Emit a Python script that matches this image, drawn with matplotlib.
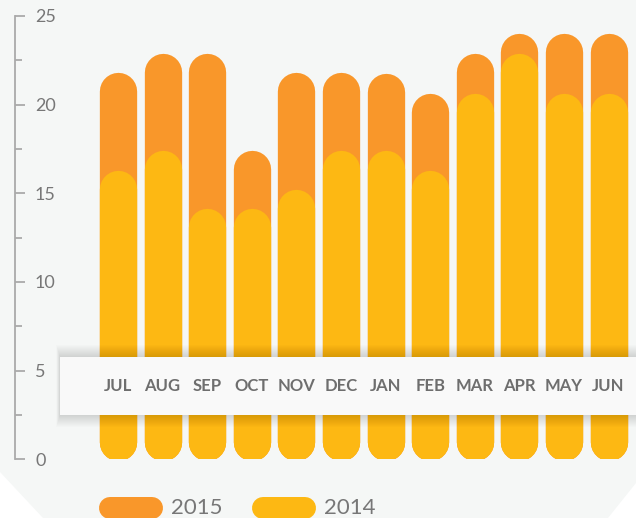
import numpy as np
import matplotlib.pyplot as plt
from matplotlib.patches import Polygon, Rectangle
from matplotlib.lines import Line2D
from matplotlib.ticker import MultipleLocator

months = ["JUL", "AUG", "SEP", "OCT", "NOV", "DEC", "JAN", "FEB", "MAR", "APR", "MAY", "JUN"]
vals_2015 = [21.8, 22.9, 22.9, 17.45, 21.8, 21.8, 21.75, 20.65, 22.9, 24.0, 24.0, 24.0]
vals_2014 = [16.3, 17.45, 14.15, 14.15, 15.2, 17.45, 17.45, 16.3, 20.65, 22.9, 20.65, 20.65]
series = ["2015", "2014"]
colors = ["#f9972a", "#fdb813"]

W, H = 636, 518
fig = plt.figure(figsize=(W / 100, H / 100), dpi=100)
fig.patch.set_facecolor("white")

# light grey card with the bottom corners cut off
bg = Polygon([(0, 1), (1, 1), (1, (H - 483) / H), (608 / W, 0), (43 / W, 0), (0, (H - 472) / H)],
             closed=True, transform=fig.transFigure, facecolor="#f5f7f6", edgecolor="none", zorder=-5)
fig.patches.append(bg)

y0_px, y25_px = 459.3, 16.0
ax = fig.add_axes([0, (H - y0_px) / H, 1, (y0_px - y25_px) / H], zorder=2)
ax.patch.set_alpha(0)
step = 44.6
x0 = 118
ax.set_xlim(-x0 / step, (W - x0) / step)
ax.set_ylim(0, 25)

px_per_unit = (y0_px - y25_px) / 25
bar_px = 37.3
r = bar_px / 2 / px_per_unit
lw = bar_px * 72 / 100

x = np.arange(len(months))
for vals, c, z in [(vals_2015, colors[0], 2), (vals_2014, colors[1], 2.5)]:
    for xi, v in zip(x, vals):
        ax.plot([xi, xi], [r - 0.1, v - r], color=c, lw=lw, solid_capstyle="round", zorder=z)

# label band with soft shadow
band_lo, band_hi = (y0_px - 415) / px_per_unit, (y0_px - 357) / px_per_unit
bx0 = (60 - x0) / step
bx1 = (W - x0) / step + 1
for k in range(1, 13):
    d = k * 1.0 / px_per_unit
    ax.add_patch(Rectangle((bx0 - 0.3 * k / step, band_lo - d), bx1 - bx0, band_hi - band_lo + 2 * d,
                           facecolor="black", edgecolor="none", alpha=0.011, zorder=3))
ax.add_patch(Rectangle((bx0, band_lo), bx1 - bx0, band_hi - band_lo,
                       facecolor="#f9f9f9", edgecolor="none", zorder=3.5))
label_y = (y0_px - 386) / px_per_unit
for xi, m in zip(x, months):
    ax.text(xi, label_y, m, ha="center", va="center", fontsize=12, fontweight="bold",
            family="Lato", color="#6e6e6e", zorder=5)

# y axis on the left, labels to the right of the spine
for s in ["top", "right", "bottom"]:
    ax.spines[s].set_visible(False)
ax.spines["left"].set_position(("axes", 15 / W))
ax.spines["left"].set_bounds(0, 25)
ax.spines["left"].set_color("#aaaaaa")
ax.spines["left"].set_linewidth(1.3)
ax.set_xticks([])
ax.yaxis.set_major_locator(MultipleLocator(5))
ax.yaxis.set_minor_locator(MultipleLocator(2.5))
ax.tick_params(axis="y", which="major", direction="in", length=7.2, width=1.3, color="#aaaaaa",
               pad=-14.4, labelsize=13, labelcolor="#777777")
ax.tick_params(axis="y", which="minor", direction="in", length=5, width=1.3, color="#aaaaaa")
for t in ax.get_yticklabels():
    t.set_ha("left")
    t.set_family("Lato")

# legend
leg_y = (H - 508) / H
for i, (name, c) in enumerate(zip(series, colors)):
    left = 99 + i * 153
    fig.add_artist(Line2D([(left + 11) / W, (left + 64 - 11) / W], [leg_y, leg_y],
                          transform=fig.transFigure, color=c, lw=22 * 0.72, solid_capstyle="round"))
    fig.text((left + 72) / W, (H - 514) / H, name, ha="left", va="baseline",
             fontsize=16, family="Lato", color="#777777")

fig.savefig("out.png", dpi=100)
